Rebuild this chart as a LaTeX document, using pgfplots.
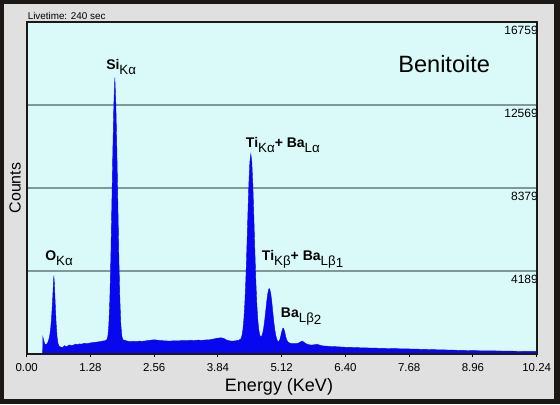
\documentclass[border=0pt]{standalone}
\usepackage{pgfplots}
\pgfplotsset{compat=1.18}
\usepackage{fontspec}
\setmainfont{Liberation Sans}

\definecolor{frame}{RGB}{28,24,22}
\definecolor{panel}{RGB}{224,224,224}
\definecolor{plotbg}{RGB}{218,250,250}
\definecolor{spec}{RGB}{8,8,238}
\definecolor{gridc}{RGB}{128,152,152}

% subscript of the line names
\newcommand{\sub}[1]{\raisebox{-3.8pt}{\fontsize{10}{12}\selectfont\mdseries #1}}

\begin{document}
\begin{tikzpicture}[x=0.75pt,y=-0.75pt]
% whole picture in px, y downwards
\fill[frame] (0,0) rectangle (560,404);
\fill[panel] (4,4) rectangle (554,399);

\begin{axis}[
    at={(20.025pt,-265.5pt)}, anchor=south west,
    scale only axis, width=382.5pt, height=249pt,
    xmin=0, xmax=10.24, ymin=0, ymax=16759,
    scaled ticks=false,
    axis background/.style={fill=plotbg},
    axis line style={frame, line width=1.2pt},
    xtick={0,1.28,2.56,3.84,5.12,6.40,7.68,8.96,10.24},
    xticklabels={0.00,1.28,2.56,3.84,5.12,6.40,7.68,8.96,10.24},
    ytick={4189,8379,12569,16759},
    yticklabels={4189,8379,12569,16759},
    xtick pos=left, ytick pos=right, yticklabel pos=right,
    tick align=outside, major tick length=2.5pt,
    x tick style={black, line width=0.8pt},
    y tick style={draw=none},
    ymajorgrids, grid style={gridc, line width=0.8pt},
    xticklabel style={font=\fontsize{8.6}{10}\selectfont, anchor=north, inner sep=0pt, yshift=-4.2pt},
    yticklabel style={font=\fontsize{9}{10}\selectfont, anchor=north east, inner sep=0pt, xshift=-1.5pt, yshift=-2.6pt},
]

\addplot[draw=spec, line width=0.3pt, fill=spec] coordinates {
(0.32,0) (0.325,860) (0.34,700) (0.36,520) (0.38,470) (0.40,500) (0.42,560)
(0.44,700) (0.46,900) (0.48,1250) (0.50,1850) (0.52,2700) (0.535,3500)
(0.545,3950) (0.555,3600) (0.57,2700) (0.59,1600) (0.61,850) (0.63,520)
(0.65,400) (0.68,350) (0.72,330) (0.76,420) (0.79,370) (0.82,400) (0.86,460)
(0.90,420) (0.94,450) (0.98,500) (1.02,470) (1.06,510) (1.10,500) (1.16,540)
(1.22,520) (1.28,560) (1.34,580) (1.40,600) (1.46,620) (1.52,650) (1.57,670)
(1.61,720) (1.63,900) (1.65,1500) (1.67,2800) (1.69,4900) (1.71,7600)
(1.73,10300) (1.75,12600) (1.77,13950) (1.79,12600) (1.81,10300) (1.83,7600)
(1.85,4900) (1.87,2800) (1.89,1500) (1.91,900) (1.93,720) (1.97,690)
(2.02,650) (2.08,630) (2.14,640) (2.20,620) (2.26,650) (2.32,640) (2.38,660)
(2.44,680) (2.50,700) (2.56,720) (2.62,700) (2.68,680) (2.74,670) (2.80,660)
(2.88,650) (2.96,670) (3.04,660) (3.12,680) (3.20,670) (3.28,690) (3.36,680)
(3.44,700) (3.52,690) (3.60,710) (3.68,720) (3.76,760) (3.84,800) (3.90,820)
(3.96,780) (4.02,700) (4.08,660) (4.14,650) (4.20,670) (4.26,700)
(4.30,760) (4.32,900) (4.34,1200) (4.36,1720) (4.38,2550) (4.40,3750)
(4.42,5280) (4.44,6970) (4.46,8550) (4.48,9680) (4.50,10100) (4.52,9680)
(4.54,8550) (4.56,6970) (4.58,5280) (4.60,3750) (4.62,2550) (4.64,1730)
(4.66,1220) (4.68,950) (4.70,870) (4.72,910) (4.74,1070) (4.76,1340)
(4.78,1725) (4.80,2185) (4.82,2656) (4.84,3048) (4.86,3270) (4.87,3300)
(4.88,3270) (4.90,3048) (4.92,2656) (4.94,2150) (4.96,1650) (4.98,1250)
(5.00,950) (5.02,760) (5.04,644) (5.06,631) (5.08,710) (5.10,888) (5.12,1115)
(5.14,1283) (5.15,1310) (5.16,1283) (5.18,1115) (5.20,888) (5.22,710)
(5.24,630) (5.27,560) (5.32,530) (5.38,520) (5.44,540) (5.48,580) (5.51,630)
(5.53,650) (5.56,610) (5.60,530) (5.66,470) (5.72,450) (5.78,470) (5.83,490)
(5.88,450) (5.94,410) (6.00,400) (6.10,380) (6.20,370) (6.30,355) (6.40,340)
(6.55,330) (6.70,315) (6.85,305) (7.00,295) (7.20,280) (7.40,270) (7.68,255)
(7.90,240) (8.10,225) (8.30,210) (8.50,200) (8.70,185) (8.96,170) (9.20,160)
(9.40,155) (9.60,150) (9.80,140) (10.00,135) (10.24,130)
} \closedcycle;

% frame again over the spectrum
\draw[frame, line width=1.2pt] (rel axis cs:0,0) rectangle (rel axis cs:1,1);
\end{axis}

\node[anchor=base west, inner sep=0pt, font=\fontsize{7.4}{9}\selectfont] at (27.5,19) {Livetime: 240 sec};
\node[anchor=base west, inner sep=0pt, font=\fontsize{17.7}{20}\selectfont] at (398,72.5) {Benitoite};
\node[rotate=90, inner sep=0pt, font=\fontsize{12}{14}\selectfont] at (15,188) {Counts};
\node[anchor=base, inner sep=0pt, font=\fontsize{13.5}{16}\selectfont] at (279,391) {Energy (KeV)};

\begin{scope}[every node/.style={anchor=base west, inner sep=0pt, font=\fontsize{10.5}{12}\selectfont\bfseries}]
\node at (45,260) {O\sub{Kα}};
\node at (106,69) {Si\sub{Kα}};
\node at (245.7,147) {Ti\sub{Kα}+ Ba\sub{Lα}};
\node at (261.7,260) {Ti\sub{Kβ}+ Ba\sub{Lβ\raisebox{-2pt}{1}}};
\node at (280.7,317) {Ba\sub{Lβ\raisebox{-2pt}{2}}};
\end{scope}
\end{tikzpicture}
\end{document}
